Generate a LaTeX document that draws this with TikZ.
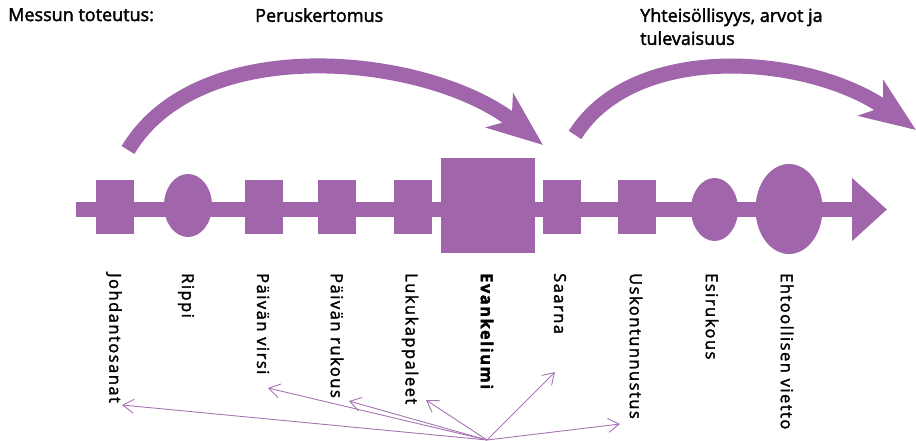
\documentclass[tikz,border=0pt]{standalone}
\usepackage{fontspec}
\setmainfont[FakeBold=2]{Open Sans}
\newfontfamily\nimifont[LetterSpace=9,FakeBold=2]{Open Sans}
\usepackage{tikz}
\usetikzlibrary{shapes.geometric}
\usetikzlibrary{arrows.meta}
\usetikzlibrary{calc}
\definecolor{messu}{HTML}{A065AA}
\definecolor{viiva}{HTML}{A774B3}
\tikzset{osa/.style={fill=messu,minimum width=38pt,minimum height=53pt,inner sep=0pt},kohta/.style={ellipse,fill=messu,inner sep=0pt},nimi/.style={rotate=-90,anchor=west,inner sep=1pt,font=\nimifont\fontsize{16.5}{18}\selectfont},otsikko/.style={anchor=north west,inner sep=0pt,align=left,font=\fontsize{18}{23}\selectfont},linja/.style={draw=messu,line width=15.3pt,-{Triangle[length=35pt,width=61pt]}},kaari/.style={draw=messu,line width=15pt,-{Stealth[length=55pt,width=43pt,inset=15pt]}},viite/.style={draw=viiva,line width=0.9pt,-{Straight Barb[length=11pt,width=14pt]}}}

\begin{document}
\begin{tikzpicture}[x=1pt,y=-1pt]
\useasboundingbox (0,0) rectangle (916,441);
\node (otsikko) at (8,8) [otsikko] {Messun toteutus:};
\node (perus) at (255,8) [otsikko] {Peruskertomus};
\node (yhteis) at (640,8) [otsikko] {Yhteisöllisyys, arvot ja\\tulevaisuus};
% aikajana
\coordinate (alku) at (76,209.5);
\coordinate (loppu) at (887,209.5);
\draw[linja] (alku) -- (loppu);
\foreach \n/\x in {1/115, 3/264, 4/336.5, 5/413, 7/562, 8/637} {
\node (s\n) at (\x,207) [osa] {};
}
\node (s2) at (188,205.5) [kohta,minimum width=48pt,minimum height=63pt] {};
\node (s6) at (487.6,205.2) [osa,minimum width=94pt,minimum height=95pt] {};
\node (s9) at (714.5,209.5) [kohta,minimum width=47pt,minimum height=63pt] {};
\node (s10) at (789,209) [kohta,minimum width=67pt,minimum height=90pt] {};
% kaaret
\coordinate (k1a) at (128,150);
\coordinate (k1b) at (543,145);
\coordinate (k2a) at (575,135);
\coordinate (k2b) at (916,130);
\draw[kaari] (k1a) .. controls (200,30) and (430,55) .. (k1b);
\draw[kaari] (k2a) .. controls (635,40) and (810,55) .. (k2b);
% nimet
\foreach \n/\x/\lbl in {1/114/Johdantosanat, 2/186/Rippi, 3/263/Päivän virsi, 4/337/Päivän rukous, 5/410/Lukukappaleet, 6/487/{\bfseries Evankeliumi}, 7/560/Saarna, 8/636/Uskontunnustus, 9/712/Esirukous, 10/787/Ehtoollisen vietto} {
\node (t\n) at (\x,272) [nimi] {\lbl};
}
\coordinate (lahde) at (487,440);
\draw[viite] (lahde) -- ($(t1.west)+(8,133)$);
\draw[viite] (lahde) -- ($(t3.west)+(5,116)$);
\draw[viite] (lahde) -- ($(t4.west)+(12,129)$);
\draw[viite] (lahde) -- ($(t5.west)+(16,128)$);
\draw[viite] (lahde) -- ($(t7.west)+(-5,100)$);
\draw[viite] (lahde) -- ($(t8.west)+(-16,152)$);
\end{tikzpicture}
\end{document}
